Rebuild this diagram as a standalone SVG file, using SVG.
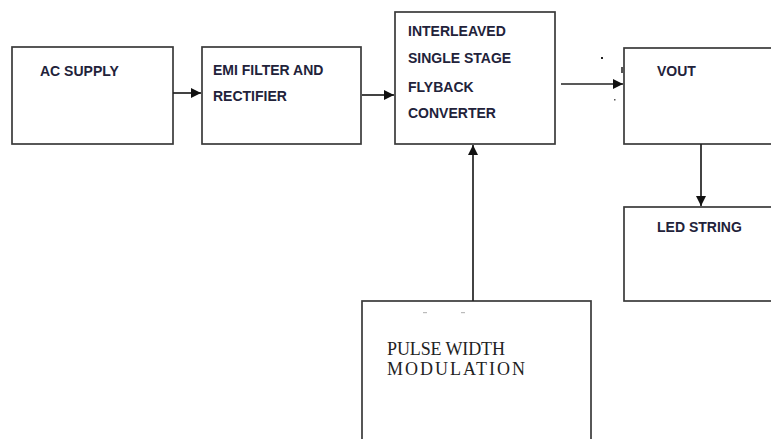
<svg xmlns="http://www.w3.org/2000/svg" width="771" height="439" viewBox="0 0 771 439">
<style>
.box{fill:#fff;stroke:#3a3a3a;stroke-width:1.7}
.lbl{font-family:"Liberation Sans",Arial,sans-serif;font-size:14px;font-weight:bold;fill:#22223a}
.ser{font-family:"Liberation Serif","Times New Roman",serif;font-size:18px;fill:#222}
.con{stroke:#222;stroke-width:1.7;fill:none}
</style>
<defs>
<marker id="ah" viewBox="0 0 10 10" refX="10" refY="5" markerWidth="11" markerHeight="10" markerUnits="userSpaceOnUse" orient="auto">
<path d="M0,0 L10,5 L0,10 z" fill="#111"/>
</marker>
</defs>
<rect width="771" height="439" fill="#fff"/>
<g id="ac-supply">
<rect class="box" x="12" y="47" width="161" height="97"/>
<text class="lbl" x="40" y="76">AC SUPPLY</text>
</g>
<g id="emi-filter">
<rect class="box" x="202" y="47" width="159" height="97"/>
<text class="lbl" x="213" y="75">EMI FILTER AND</text>
<text class="lbl" x="213" y="101">RECTIFIER</text>
</g>
<g id="flyback">
<rect class="box" x="395" y="12" width="160" height="132"/>
<text class="lbl" x="408" y="36">INTERLEAVED</text>
<text class="lbl" x="408" y="63">SINGLE STAGE</text>
<text class="lbl" x="408" y="92">FLYBACK</text>
<text class="lbl" x="408" y="118">CONVERTER</text>
</g>
<g id="vout">
<rect class="box" x="624" y="48" width="160" height="96"/>
<text class="lbl" x="657" y="76">VOUT</text>
</g>
<g id="led-string">
<rect class="box" x="624" y="207" width="160" height="94"/>
<text class="lbl" x="657" y="232">LED STRING</text>
</g>
<g id="pwm">
<rect class="box" x="362" y="301" width="229" height="150"/>
<text class="ser" x="387" y="355" textLength="118" lengthAdjust="spacing">PULSE WIDTH</text>
<text class="ser" x="387" y="375" textLength="138" lengthAdjust="spacing">MODULATION</text>
</g>
<g id="connectors">
<line class="con" x1="173" y1="93" x2="201" y2="93" marker-end="url(#ah)"/>
<line class="con" x1="362" y1="95" x2="394" y2="95" marker-end="url(#ah)"/>
<line class="con" x1="561" y1="84" x2="623" y2="84" marker-end="url(#ah)"/>
<line class="con" x1="701" y1="144" x2="701" y2="206" marker-end="url(#ah)"/>
<line class="con" x1="473" y1="301" x2="473" y2="145" marker-end="url(#ah)"/>
</g>
<g id="marks" fill="#222">
<rect x="601" y="57" width="2" height="2"/>
<rect x="621" y="67" width="2" height="6" fill="#555"/>
<rect x="614" y="99" width="1.5" height="1.5" fill="#555"/>
<rect x="423" y="312" width="4" height="1.2" fill="#bbb"/>
<rect x="461" y="312" width="4" height="1.2" fill="#bbb"/>
</g>
</svg>
